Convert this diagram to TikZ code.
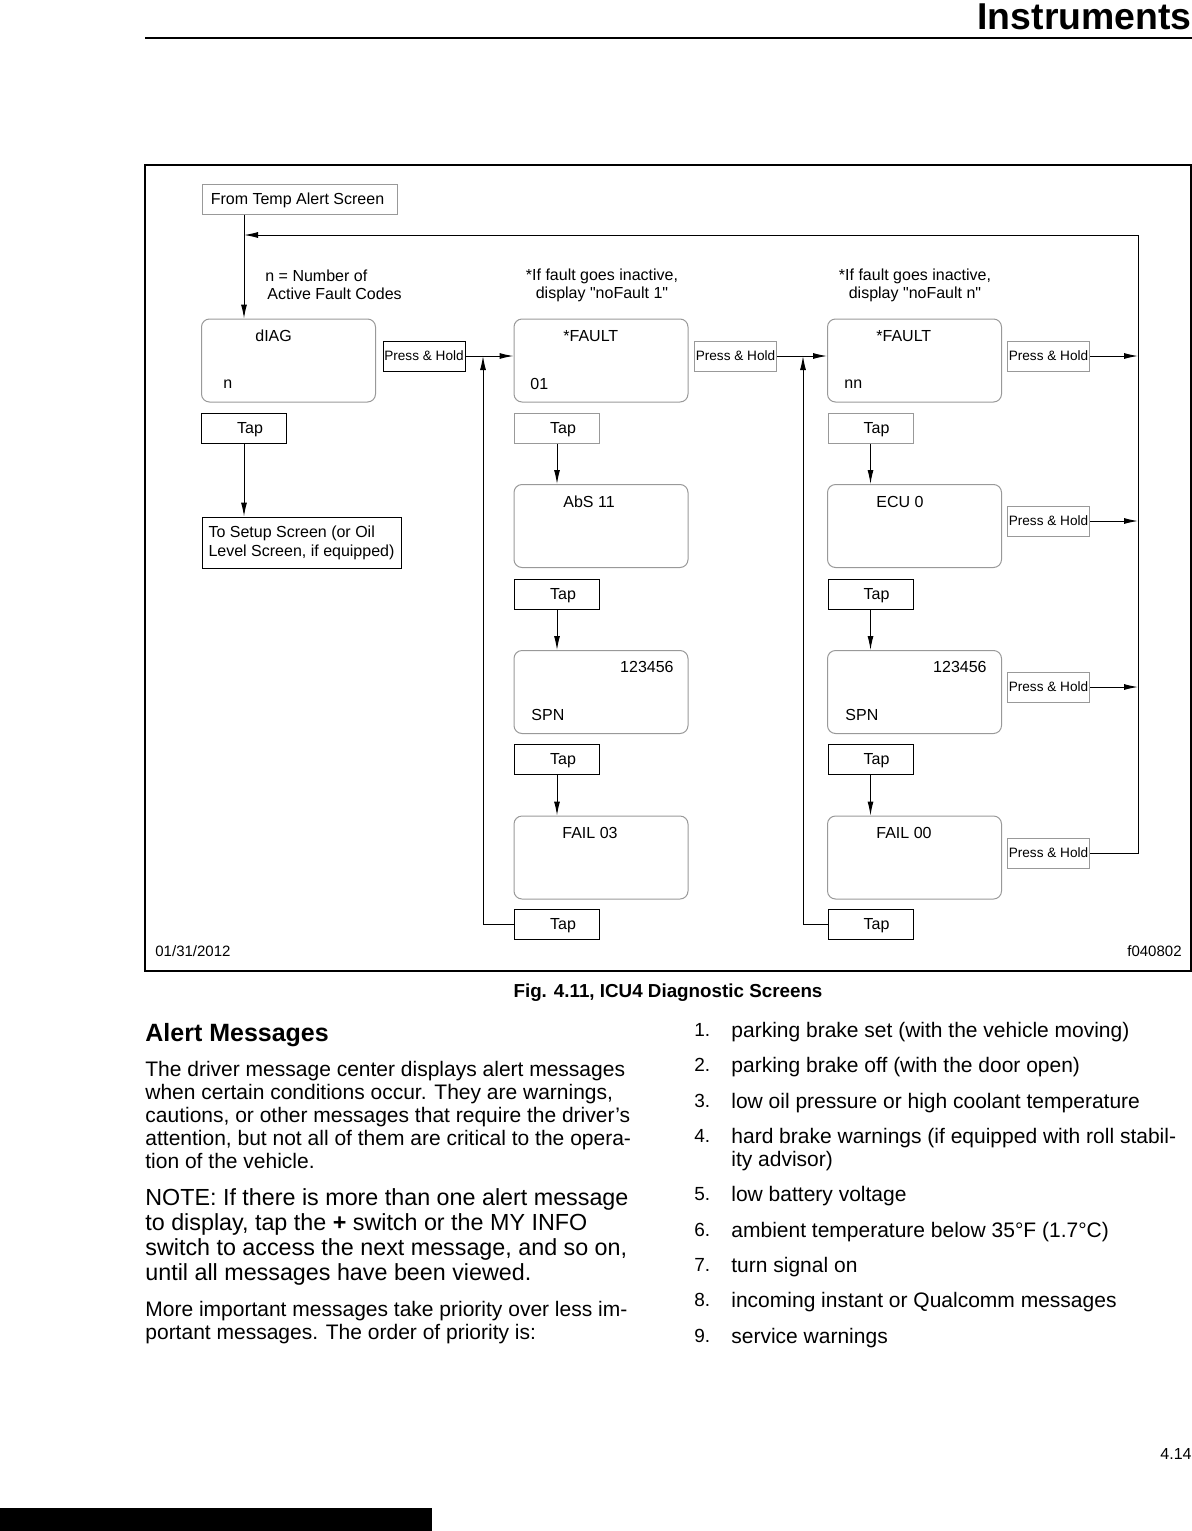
\documentclass[tikz,border=0pt]{standalone}
\usepackage{fontspec}
\setmainfont{Liberation Sans}
\usetikzlibrary{arrows.meta}

\newcommand{\paralines}[1]{\parbox[t]{300pt}{\raggedright #1}}
\newcommand{\taptext}{\hspace*{6pt}Tap}

\begin{document}

\begin{tikzpicture}[x = 0.5pt, y = -0.5pt, font = \fontsize{8}{9.6}\selectfont,
	arr/.style = {-{Latex[length = 7pt, width = 3pt]}, line width = 0.5pt},
	screen/.style = {draw = gray!80, line width = 0.5pt, rounded corners = 4pt, minimum width = 87pt, minimum height = 41.5pt, inner sep = 0pt},
	tapbox/.style = {draw, line width = 0.5pt, minimum width = 42.5pt, minimum height = 15pt, inner sep = 0pt, text depth = 0.4pt},
	tapgray/.style = {tapbox, draw = gray!80},
	hold/.style = {draw = gray!80, line width = 0.5pt, minimum width = 41pt, minimum height = 15pt, inner sep = 0pt, font = \fontsize{6.8}{8}\selectfont},
	lbl/.style = {anchor = base west, inner sep = 0pt},
	body/.style = {anchor = base west, inner sep = 0pt, font = \fontsize{10.5}{11.5}\selectfont}]

	\useasboundingbox (0, 0) rectangle (1192, 1531);

	\node [anchor = base east, inner sep = 0pt, font = \bfseries\fontsize{18.7}{22}\selectfont] (title) at (1192, 29) {Instruments};
	\draw [line width = 0.6pt] (145, 38) -- (1192, 38);

	\draw [line width = 0.6pt] (145, 165) rectangle (1191, 971);

	\node [tapgray, minimum width = 97.5pt] (fromBox) at (299.5, 199) {From Temp Alert Screen\hspace*{2pt}};
	\node [anchor = west, align = left, inner sep = 0pt, font = \fontsize{8}{9}\selectfont] (nnote) at (265, 285) {n = Number of\\\hspace*{1pt}Active Fault Codes};
	\node [align = center, inner sep = 0pt, font = \fontsize{8}{9}\selectfont] (inact1) at (602, 285) {*If fault goes inactive,\\display \textquotedbl noFault 1\textquotedbl};
	\node [align = center, inner sep = 0pt, font = \fontsize{8}{9}\selectfont] (inact2) at (915, 285) {*If fault goes inactive,\\display \textquotedbl noFault n\textquotedbl};

	\node [screen] (diag) at (288.5, 360.5) {};
	\node [screen] (fault1) at (601, 360.5) {};
	\node [screen] (fault2) at (914.5, 360.5) {};
	\node [screen] (abs) at (601, 526) {};
	\node [screen] (ecu) at (914.5, 526) {};
	\node [screen] (spnB) at (601, 692) {};
	\node [screen] (spnC) at (914.5, 692) {};
	\node [screen] (failB) at (601, 857.5) {};
	\node [screen] (failC) at (914.5, 857.5) {};

	\node [lbl] (diagT) at (255, 341) {dIAG};
	\node [lbl] (diagB) at (223, 388) {n};
	\node [lbl] (fault1T) at (563, 341) {*FAULT};
	\node [lbl] (fault1B) at (530, 389) {01};
	\node [lbl] (fault2T) at (876, 341) {*FAULT};
	\node [lbl] (fault2B) at (844, 388) {nn};
	\node [lbl] (absT) at (563, 507) {AbS 11};
	\node [lbl] (ecuT) at (876, 507) {ECU 0};
	\node [lbl, anchor = base east] (spnBT) at (674, 672) {123456};
	\node [lbl] (spnBB) at (531, 720) {SPN};
	\node [lbl, anchor = base east] (spnCT) at (987, 672) {123456};
	\node [lbl] (spnCB) at (845, 720) {SPN};
	\node [lbl] (failBT) at (562, 838) {FAIL 03};
	\node [lbl] (failCT) at (876, 838) {FAIL 00};

	\node [tapbox] (tapA) at (244, 428) {\taptext};
	\node [tapgray] (tapB1) at (557, 428) {\taptext};
	\node [tapbox] (tapB2) at (557, 594) {\taptext};
	\node [tapbox] (tapB3) at (557, 759) {\taptext};
	\node [tapbox] (tapB4) at (557, 924.5) {\taptext};
	\node [tapgray] (tapC1) at (870.5, 428) {\taptext};
	\node [tapbox] (tapC2) at (870.5, 594) {\taptext};
	\node [tapbox] (tapC3) at (870.5, 759) {\taptext};
	\node [tapbox] (tapC4) at (870.5, 924.5) {\taptext};

	\node [draw, line width = 0.5pt, inner sep = 0pt, minimum width = 99.5pt, minimum height = 25.5pt, align = left, font = \fontsize{8}{9.5}\selectfont] (setup) at (301.5, 542.5) {To Setup Screen (or Oil\\Level Screen, if equipped)};

	\node [hold, draw = black] (hold1) at (424, 356) {Press \& Hold};
	\node [hold] (hold2) at (735.5, 356) {Press \& Hold};
	\node [hold] (hold3) at (1048.5, 356) {Press \& Hold};
	\node [hold] (hold4) at (1048.5, 521) {Press \& Hold};
	\node [hold] (hold5) at (1048.5, 687) {Press \& Hold};
	\node [hold] (hold6) at (1048.5, 853) {Press \& Hold};

	\coordinate (railtop) at (1138, 235);
	\coordinate (loopB) at (483, 356);
	\coordinate (loopC) at (803, 356);

	\draw [arr] (hold6.east) -| (railtop) -- (tapA |- railtop);
	\draw [arr] (tapA |- fromBox.south) -- (tapA |- diag.north);
	\draw [arr] (hold1.east) -- (hold1.east -| fault1.west);
	\draw [arr] (hold2.east) -- (hold2.east -| fault2.west);
	\draw [arr] (hold3.east) -- (hold3.east -| railtop);
	\draw [arr] (hold4.east) -- (hold4.east -| railtop);
	\draw [arr] (hold5.east) -- (hold5.east -| railtop);
	\draw [arr] (tapA.south) -- (tapA.south |- setup.north);
	\draw [arr] (tapB1.south) -- (tapB1.south |- abs.north);
	\draw [arr] (tapB2.south) -- (tapB2.south |- spnB.north);
	\draw [arr] (tapB3.south) -- (tapB3.south |- failB.north);
	\draw [arr] (tapC1.south) -- (tapC1.south |- ecu.north);
	\draw [arr] (tapC2.south) -- (tapC2.south |- spnC.north);
	\draw [arr] (tapC3.south) -- (tapC3.south |- failC.north);
	\draw [arr] (tapB4.west) -| (loopB);
	\draw [arr] (tapC4.west) -| (loopC);

	\node [lbl, font = \fontsize{7.5}{9}\selectfont] (date) at (155, 956) {01/31/2012};
	\node [lbl, anchor = base east, font = \fontsize{7.5}{9}\selectfont] (figid) at (1182, 956) {f040802};

	\node [anchor = base, inner sep = 0pt, font = \bfseries\fontsize{9.4}{11}\selectfont] (caption) at (668, 997) {Fig. 4.11, ICU4 Diagnostic Screens};

	\node [lbl, font = \bfseries\fontsize{12.5}{15}\selectfont] (heading) at (145, 1041) {Alert Messages};
	\node [body] (para1) at (145, 1076.5) {\paralines{The driver message center displays alert messages\\when certain conditions occur. They are warnings,\\cautions, or other messages that require the driver’s\\attention, but not all of them are critical to the opera-\\tion of the vehicle.}};
	\node [body, font = \fontsize{11.65}{12.5}\selectfont] (note) at (145, 1205.5) {\paralines{NOTE: If there is more than one alert message\\to display, tap the {\bfseries +} switch or the MY INFO\\switch to access the next message, and so on,\\until all messages have been viewed.}};
	\node [body] (para3) at (145, 1316.5) {\paralines{More important messages take priority over less im-\\portant messages. The order of priority is:}};

	\foreach \i/\txt in {1/{parking brake set (with the vehicle moving)}, 2/{parking brake off (with the door open)}, 3/{low oil pressure or high coolant temperature}, 4/{hard brake warnings (if equipped with roll stabil-\\ity advisor)}, 5/{low battery voltage}, 6/{ambient temperature below 35°F (1.7°C)}, 7/{turn signal on}, 8/{incoming instant or Qualcomm messages}, 9/{service warnings}} {
		\pgfmathsetmacro{\yb}{1037.5 + 35.35 * (\i - 1) + (\i > 4) * 23}
		\node [body] (item\i) at (731, \yb) {\paralines{\txt}};
		\node [lbl, font = \fontsize{9.5}{11}\selectfont] (num\i) at (694, \yb - 1) {\i.};
	}

	\node [lbl, anchor = base east, font = \fontsize{8}{10}\selectfont] (pagenum) at (1192, 1459) {4.14};
	\fill (0, 1508) rectangle (432, 1531);

\end{tikzpicture}

\end{document}
